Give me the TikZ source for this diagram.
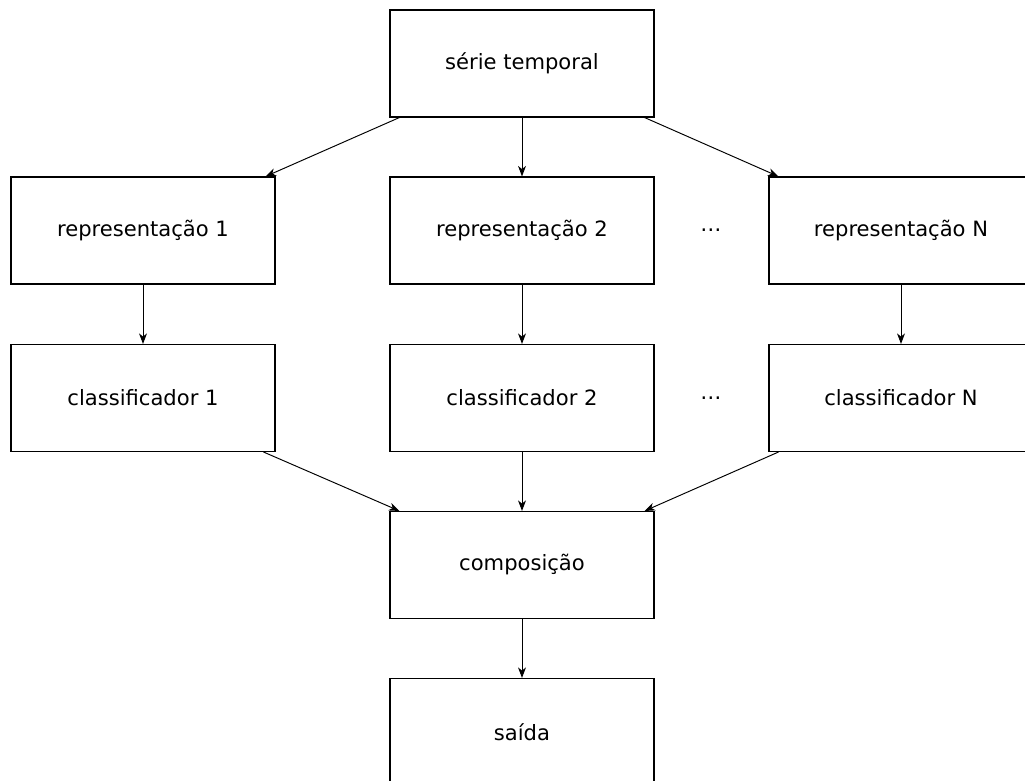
\documentclass[tikz,border=0pt]{standalone}
\usepackage{fontspec}
\setmainfont{DejaVu Sans}
\usetikzlibrary{arrows.meta,calc}
\begin{document}
\begin{tikzpicture}[x=0.02cm,y=0.02cm,
  blk/.style={draw=black,line width=0.6pt,minimum width=264*0.02cm,minimum height=107*0.02cm,inner sep=0pt,font=\fontsize{12pt}{14pt}\selectfont},
  con/.style={line width=0.55pt,-{Stealth[length=6pt,width=4.5pt,inset=1.8pt]}},
  gap/.style={font=\fontsize{12pt}{14pt}\selectfont}]
\useasboundingbox (0,0) rectangle (1025,781);
\clip (0,0) rectangle (1025,781);
% boxes
\node[blk] (s)   at (522,717.5) {série temporal};
\node[blk] (r1)  at (143,550.5) {representação 1};
\node[blk] (r2)  at (522,550.5) {representação 2};
\node[blk] (rN)  at (901,550.5) {representação N};
\node[blk] (c1)  at (143,383)   {classificador 1};
\node[blk] (c2)  at (522,383)   {classificador 2};
\node[blk] (cN)  at (901,383)   {classificador N};
\node[blk] (comp) at (522,216)  {composição};
\node[blk] (out) at (522,49)    {saída};
\node[gap] (d1) at (711,550.5) {…};
\node[gap] (d2) at (711,383) {…};
% connectors
\draw[con] ($(s.south west)+(10,0)$) -- ($(r1.north east)+(-10,0)$);
\draw[con] (s.south) -- (r2.north);
\draw[con] ($(s.south east)+(-10,0)$) -- ($(rN.north west)+(10,0)$);
\draw[con] (r1.south) -- (c1.north);
\draw[con] (r2.south) -- (c2.north);
\draw[con] (rN.south) -- (cN.north);
\draw[con] ($(c1.south east)+(-12,0)$) -- ($(comp.north west)+(10,0)$);
\draw[con] (c2.south) -- (comp.north);
\draw[con] ($(cN.south west)+(10,0)$) -- ($(comp.north east)+(-10,0)$);
\draw[con] (comp.south) -- (out.north);
\end{tikzpicture}
\end{document}
